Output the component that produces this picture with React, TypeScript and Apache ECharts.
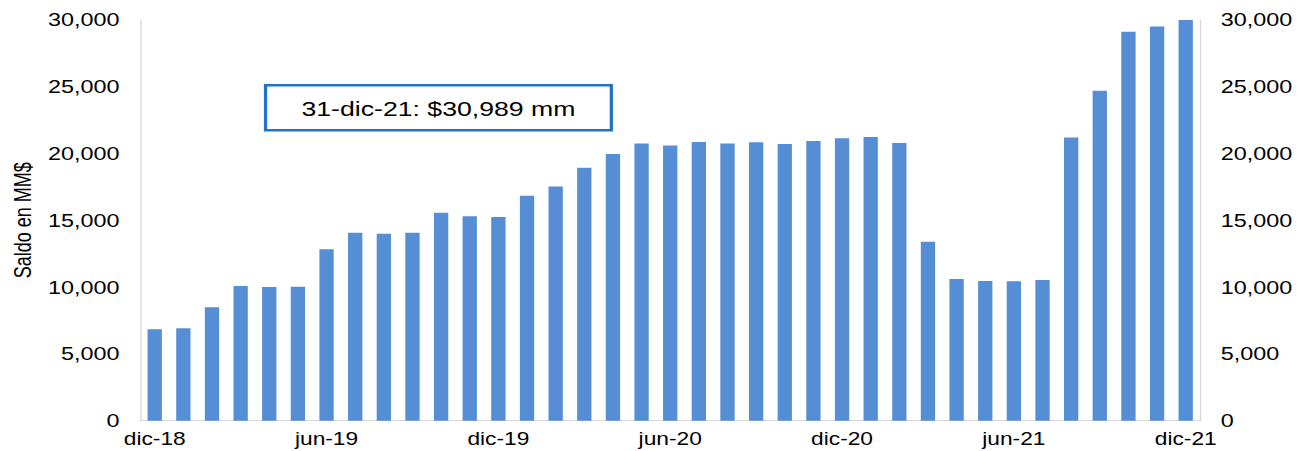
import React, { useEffect, useRef } from "react";
import * as echarts from "echarts";

const categories: string[] = [
  "dic-18", "ene-19", "feb-19", "mar-19", "abr-19", "may-19", "jun-19", "jul-19", "ago-19", "sep-19",
  "oct-19", "nov-19", "dic-19", "ene-20", "feb-20", "mar-20", "abr-20", "may-20", "jun-20", "jul-20",
  "ago-20", "sep-20", "oct-20", "nov-20", "dic-20", "ene-21", "feb-21", "mar-21", "abr-21", "may-21",
  "jun-21", "jul-21", "ago-21", "sep-21", "oct-21", "nov-21", "dic-21",
];

const saldo: number[] = [
  6840, 6920, 8490, 10080, 10010, 10030, 12830, 14070, 14000, 14070,
  15570, 15300, 15250, 16840, 17540, 18940, 19960, 20760, 20610, 20860,
  20760, 20840, 20710, 20940, 21140, 21240, 20790, 13400, 10610, 10460,
  10440, 10530, 21210, 24700, 29120, 29520, 30989,
];

const yTicks = { min: 0, max: 30000, interval: 5000 };
const yAxisTitle = "Saldo en MM$";
const annotation = "31-dic-21: $30,989 mm";

const STRETCH = 1.3;
const W = Math.round(1309 / STRETCH);
const H = 451;
const FONT = "'Liberation Sans', Arial, sans-serif";
const TEXT = "#000000";

const fmt = (v: number) => v.toLocaleString("en-US");

export default function App() {
  const ref = useRef<HTMLDivElement>(null);
  useEffect(() => {
    if (!ref.current) return;
    const chart = echarts.init(ref.current, undefined, { renderer: "svg" });
    const axisLine = { show: true, lineStyle: { color: "#d9d9d9", width: 1 } };
    const yLabel = { color: TEXT, fontSize: 18, fontFamily: FONT, margin: 16, formatter: fmt };
    chart.setOption({
      animation: false,
      backgroundColor: "#ffffff",
      grid: { left: 107.7, right: W - 923.1, top: 20, bottom: 30.3, containLabel: false },
      xAxis: {
        type: "category",
        data: categories,
        axisLine,
        axisTick: { show: false },
        axisLabel: { interval: 5, color: TEXT, fontSize: 17.5, fontFamily: FONT, margin: 9 },
        splitLine: { show: false },
      },
      yAxis: [
        {
          type: "value",
          position: "left",
          ...yTicks,
          axisLine,
          axisTick: { show: false },
          splitLine: { show: false },
          axisLabel: yLabel,
          name: yAxisTitle,
          nameLocation: "middle",
          nameGap: 82,
          nameTextStyle: { color: TEXT, fontSize: 18, fontFamily: FONT },
        },
        {
          type: "value",
          position: "right",
          ...yTicks,
          axisLine,
          axisTick: { show: false },
          splitLine: { show: false },
          axisLabel: yLabel,
        },
      ],
      series: [
        {
          type: "bar",
          data: saldo,
          yAxisIndex: 0,
          barWidth: 11,
          clip: true,
          itemStyle: { color: "#558ed5" },
        },
      ],
      graphic: [
        {
          type: "group",
          left: 203,
          top: 84,
          children: [
            {
              type: "rect",
              shape: { x: 0, y: 0, width: 266, height: 45 },
              style: { fill: "#ffffff", stroke: "#1f74c4", lineWidth: 2.5 },
            },
            {
              type: "text",
              x: 133,
              y: 23,
              style: {
                text: annotation,
                fill: TEXT,
                font: `20.5px ${FONT}`,
                align: "center",
                verticalAlign: "middle",
              },
            },
          ],
        },
      ],
    });
    return () => chart.dispose();
  }, []);
  return (
    <div
      style={{
        position: "fixed",
        left: 0,
        top: 0,
        width: W,
        height: H,
        transform: `scaleX(${STRETCH})`,
        transformOrigin: "0 0",
        background: "#fff",
      }}
    >
      <div ref={ref} style={{ width: W, height: H }} />
    </div>
  );
}
